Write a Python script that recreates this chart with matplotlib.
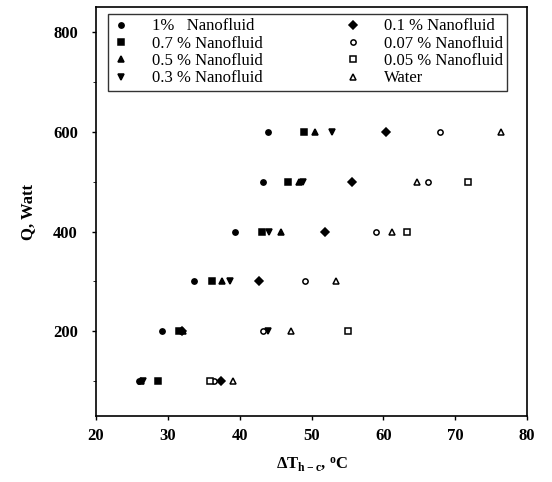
import numpy as np
import matplotlib
matplotlib.use("Agg")
import matplotlib.pyplot as plt
from matplotlib.ticker import MultipleLocator

plt.rcParams["font.family"] = ["Liberation Serif", "DejaVu Serif"]
plt.rcParams["mathtext.default"] = "regular"

# ── data ──────────────────────────────────────────────────
q_watt = [100, 200, 300, 400, 500, 600]

dt_1    = [26.0, 29.2, 33.7, 39.3, 43.3, 43.9]
dt_07   = [28.6, 31.6, 36.2, 43.1, 46.7, 49.0]
dt_05   = [26.3, 32.1, 37.5, 45.7, 48.3, 50.5]
dt_03   = [26.6, 44.0, 38.6, 44.1, 48.8, 52.8]
dt_01   = [37.4, 32.0, 42.7, 51.8, 55.6, 60.3]
dt_007  = [36.4, 43.3, 49.1, 58.9, 66.2, 67.8]
dt_005  = [35.8, 55.0, np.nan, 63.3, 71.8, np.nan]
dt_water = [39.1, 47.1, 53.4, 61.2, 64.6, 76.4]

labels = ["1%   Nanofluid", "0.7 % Nanofluid", "0.5 % Nanofluid",
          "0.3 % Nanofluid", "0.1 % Nanofluid", "0.07 % Nanofluid",
          "0.05 % Nanofluid", "Water"]
series = [dt_1, dt_07, dt_05, dt_03, dt_01, dt_007, dt_005, dt_water]

# marker, size, filled
styles = [("o", 3.8, True), ("s", 4.0, True), ("^", 4.4, True),
          ("v", 4.4, True), ("D", 4.0, True), ("o", 3.8, False),
          ("s", 4.0, False), ("^", 4.4, False)]

# ── plot ──────────────────────────────────────────────────
fig = plt.figure(figsize=(5.52, 4.82), dpi=100)
ax = fig.add_axes([0.174, 0.137, 0.781, 0.848])

for x, lab, (m, ms, filled) in zip(series, labels, styles):
    ax.plot(x, q_watt, linestyle="none", marker=m, markersize=ms,
            markerfacecolor="black" if filled else "white",
            markeredgecolor="black", markeredgewidth=1.1, label=lab)

ax.set_xlim(20, 80)
ax.set_ylim(30, 850)
ax.xaxis.set_major_locator(MultipleLocator(10))
ax.yaxis.set_major_locator(MultipleLocator(200))
ax.yaxis.set_minor_locator(MultipleLocator(100))
ax.tick_params(axis="both", which="major", direction="out", length=3,
               width=1, labelsize=12)
ax.tick_params(axis="y", which="major", pad=10)
ax.tick_params(axis="x", which="major", pad=6)
ax.tick_params(axis="y", which="minor", direction="out", length=2)
for t in ax.get_xticklabels() + ax.get_yticklabels():
    t.set_fontweight("bold")
for s in ax.spines.values():
    s.set_linewidth(1.2)

ax.set_xlabel(r"ΔT$_{h-c}$, $^{o}$C", fontsize=12, fontweight="bold",
              labelpad=8)
ax.set_ylabel("Q, Watt", fontsize=12, fontweight="bold", labelpad=12)

leg = ax.legend(ncol=2, loc="upper left", mode="expand",
                bbox_to_anchor=(0.028, 0.795, 0.926, 0.188),
                fontsize=12, frameon=True, fancybox=False, edgecolor="black",
                handlelength=1.1, handletextpad=1.3, labelspacing=0.08,
                borderpad=0.25, columnspacing=1.0, borderaxespad=0)
leg.get_frame().set_linewidth(1.0)

plt.savefig("out.png", dpi=100)
